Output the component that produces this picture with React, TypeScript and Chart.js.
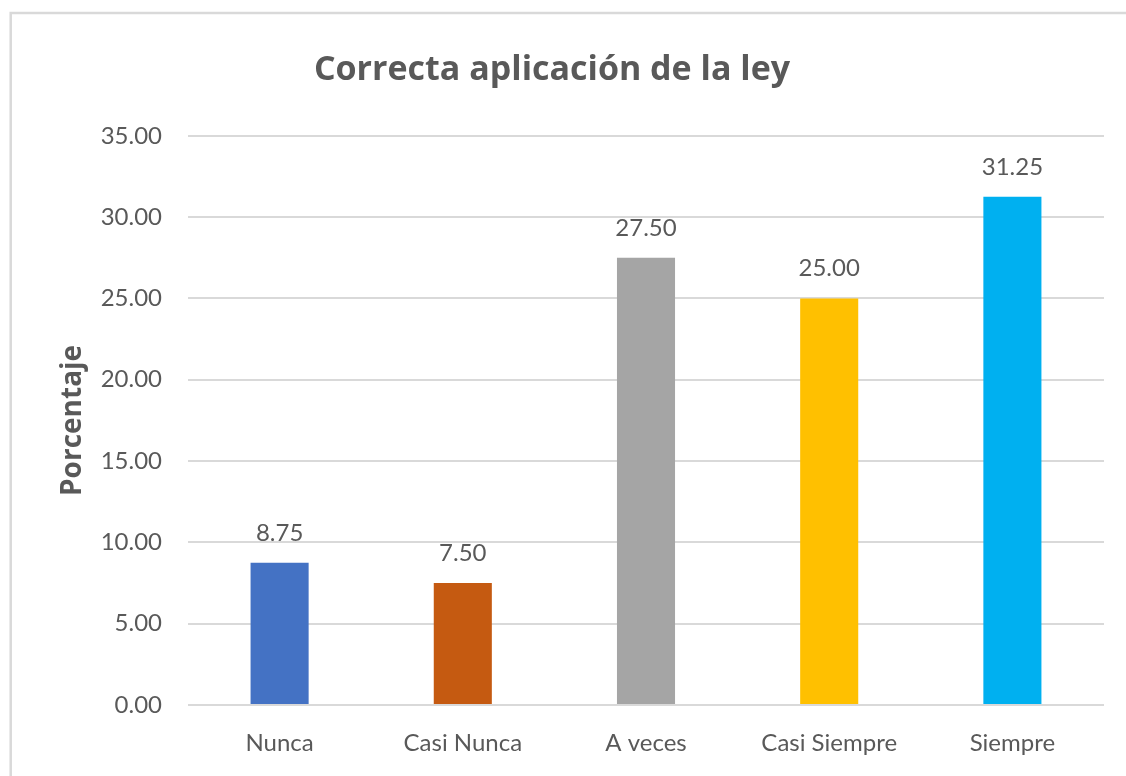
import React, { useEffect, useRef } from "react";
import { Chart, registerables } from "chart.js";

Chart.register(...registerables);

const categories = ["Nunca", "Casi Nunca", "A veces", "Casi Siempre", "Siempre"];
const values = [8.75, 7.5, 27.5, 25.0, 31.25];
const barColors = ["#4472C4", "#C55A11", "#A5A5A5", "#FFC000", "#00B0F0"];
const chartTitle = "Correcta aplicación de la ley";
const yTitle = "Porcentaje";
const yMin = 0;
const yMax = 35;
const yStep = 5;

const FONT = "Lato, 'Open Sans', sans-serif";
const BOLD_FONT = "'Open Sans', Lato, sans-serif";
const TEXT = "#595959";

const borderPlugin = {
  id: "outerBorder",
  beforeDraw(chart: any) {
    const { ctx } = chart;
    ctx.save();
    ctx.fillStyle = "#ffffff";
    ctx.fillRect(0, 0, chart.width, chart.height);
    ctx.strokeStyle = "#d9d9d9";
    ctx.lineWidth = 2.5;
    ctx.strokeRect(10.7, 13, chart.width + 20, chart.height + 20);
    ctx.restore();
  },
};

const labelPlugin = {
  id: "barLabels",
  afterDatasetsDraw(chart: any) {
    const { ctx } = chart;
    const meta = chart.getDatasetMeta(0);
    ctx.save();
    ctx.fillStyle = TEXT;
    ctx.font = `24px ${FONT}`;
    ctx.textAlign = "center";
    ctx.textBaseline = "alphabetic";
    meta.data.forEach((bar: any, i: number) => {
      const v = chart.data.datasets[0].data[i] as number;
      ctx.fillText(v.toFixed(2), bar.x, bar.y - 22);
    });
    ctx.restore();
  },
};

export default function App() {
  const ref = useRef<HTMLCanvasElement>(null);
  useEffect(() => {
    if (!ref.current) return;
    const chart = new Chart(ref.current, {
      type: "bar",
      data: {
        labels: categories,
        datasets: [
          {
            data: values,
            backgroundColor: barColors,
            borderWidth: 0,
            categoryPercentage: 1,
            barPercentage: 0.317,
          },
        ],
      },
      options: {
        animation: false,
        responsive: false,
        layout: { padding: { top: 0, right: 22, bottom: 0, left: 0 } },
        plugins: {
          legend: { display: false },
          tooltip: { enabled: false },
          title: {
            display: true,
            text: chartTitle,
            color: TEXT,
            font: { family: BOLD_FONT, size: 34, weight: "bold" },
            padding: { top: 50, bottom: 45 },
          },
        },
        scales: {
          x: {
            grid: { display: false, drawTicks: false },
            border: { display: false },
            ticks: {
              color: TEXT,
              font: { family: FONT, size: 24 },
              padding: 24,
              maxRotation: 0,
            },
            afterFit(scale: any) {
              scale.height = 71;
            },
          },
          y: {
            min: yMin,
            max: yMax,
            grid: { color: "#d9d9d9", lineWidth: 2, drawTicks: false },
            border: { display: false },
            ticks: {
              stepSize: yStep,
              color: TEXT,
              font: { family: FONT, size: 24 },
              padding: 26,
              callback: (v: any) => Number(v).toFixed(2),
            },
            title: {
              display: true,
              text: yTitle,
              color: TEXT,
              font: { family: BOLD_FONT, size: 28, weight: "bold" },
              padding: { top: 56, bottom: 0 },
            },
            afterFit(scale: any) {
              scale.width = 188;
            },
          },
        },
      },
      plugins: [borderPlugin, labelPlugin],
    });
    return () => chart.destroy();
  }, []);
  return (
    <div style={{ position: "absolute", left: 0, top: 0, width: 1126, height: 776 }}>
      <canvas ref={ref} width={1126} height={776} />
    </div>
  );
}
